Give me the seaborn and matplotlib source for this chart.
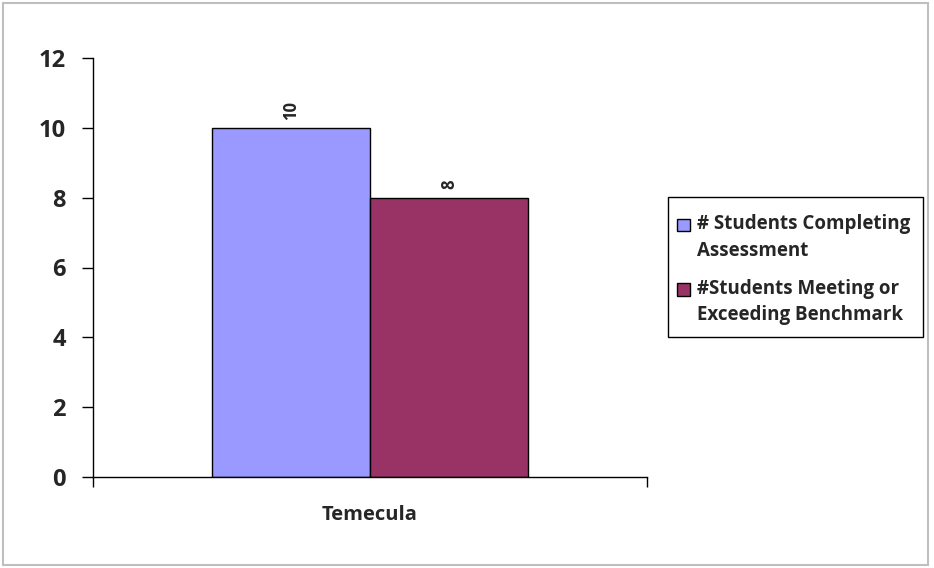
import matplotlib
matplotlib.use("Agg")
import matplotlib.pyplot as plt
import seaborn as sns
import pandas as pd
from matplotlib.patches import Rectangle
from matplotlib.legend_handler import HandlerPatch

categories = ["Temecula"]
series_names = ["# Students Completing\nAssessment", "#Students Meeting or\nExceeding Benchmark"]
completing = [10]
meeting = [8]
y_ticks = [0, 2, 4, 6, 8, 10, 12]
colors = ["#9999FF", "#993366"]

rows = []
for i, c in enumerate(categories):
    rows.append({"category": c, "series": series_names[0], "value": completing[i]})
    rows.append({"category": c, "series": series_names[1], "value": meeting[i]})
df = pd.DataFrame(rows)

sns.set_style("white")
plt.rcParams["font.family"] = ["Open Sans", "DejaVu Sans"]

W, H = 934, 568
fig = plt.figure(figsize=(W / 100, H / 100), dpi=100)
ax = fig.add_axes([93/W, 1-477/H, (647-93)/W, (477-58)/H])

sns.barplot(data=df, x="category", y="value", hue="series", palette=colors,
            saturation=1, edgecolor="black", linewidth=1.0, width=0.57, gap=0, ax=ax)

for cont in ax.containers:
    ax.bar_label(cont, rotation=90, padding=6, fontsize=12, fontweight="bold")

ax.set_xlim(-0.5, 0.5)
ax.set_ylim(0, 12)
ax.set_yticks(y_ticks)
ax.set_yticklabels([str(t) for t in y_ticks], fontsize=17, fontweight="bold")
ax.set_xticks([-0.5, 0.5])
ax.set_xticklabels(["", ""])
ax.set_xticks([0], minor=True)
ax.set_xticklabels(categories, minor=True, fontsize=14.5, fontweight="bold")
ax.tick_params(axis="x", which="major", bottom=True, direction="out", length=7, width=1, color="black")
ax.tick_params(axis="x", which="minor", bottom=True, length=0, pad=20)
ax.tick_params(axis="y", left=True, direction="out", length=8, width=1, color="black", pad=11.5)
ax.set_xlabel("")
ax.set_ylabel("")
for s in ["top", "right"]:
    ax.spines[s].set_visible(False)
for s in ["left", "bottom"]:
    ax.spines[s].set_color("black")
    ax.spines[s].set_linewidth(1)

leg_fs = 13.5
line_sp = 1.45


def top_square(legend, orig_handle, xdescent, ydescent, width, height, fontsize):
    shift = 0.5 * line_sp * fontsize
    return Rectangle((-xdescent, -ydescent + shift), width, height)


handles, labels = ax.get_legend_handles_labels()
if ax.legend_:
    ax.legend_.remove()
leg = fig.legend(handles, labels, loc="upper left", bbox_to_anchor=(668/W, 1-205/H),
                 frameon=False,
                 prop={"weight": "bold", "size": leg_fs}, handlelength=0.65, handleheight=0.65,
                 handletextpad=0.4, borderpad=0.5, labelspacing=0.93, borderaxespad=0,
                 handler_map={h: HandlerPatch(patch_func=top_square) for h in handles})
for t in leg.get_texts():
    t.set_linespacing(line_sp)

# legend frame
fig.patches.append(Rectangle((668/W, 1-337/H), (923-668)/W, (337-197)/H, transform=fig.transFigure,
                             fill=False, edgecolor="black", linewidth=1.0))
# chart border
fig.patches.append(Rectangle((3/W, 3/H), 925/W, 562/H, transform=fig.transFigure,
                             fill=False, edgecolor="#BFBFBF", linewidth=1.5))

fig.savefig("out.png", dpi=100)
